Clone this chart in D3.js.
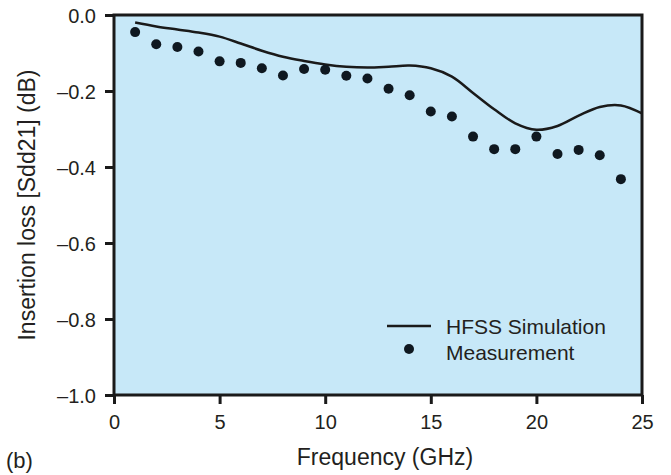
<!DOCTYPE html>
<html>
<head>
<meta charset="utf-8">
<script src="https://cdn.jsdelivr.net/npm/d3@7"></script>
<style>
  body { margin: 0; background: #fff; }
  svg text { font-family: "Liberation Sans", Arial, sans-serif; fill: #231f20; }
</style>
</head>
<body>
<div id="chart"></div>
<script>
// Simulation curve (HFSS).
const simFreq = [1, 2, 3, 4, 5, 6, 7, 8, 9, 10, 11, 12, 13, 14, 15, 16, 17, 18, 19, 20, 21, 22, 23, 24, 25];
const simLoss = [-0.020, -0.030, -0.038, -0.046, -0.057, -0.075, -0.094, -0.110, -0.121, -0.130,
  -0.136, -0.138, -0.136, -0.133, -0.140, -0.162, -0.205, -0.248, -0.285, -0.302,
  -0.292, -0.265, -0.242, -0.238, -0.259];

// Measurement points.
const measFreq = [1, 2, 3, 4, 5, 6, 7, 8, 9, 10, 11, 12, 13, 14, 15, 16, 17, 18, 19, 20, 21, 22, 23, 24];
const measLoss = [-0.045, -0.077, -0.084, -0.096, -0.122, -0.126, -0.140, -0.159, -0.142, -0.144,
  -0.160, -0.167, -0.194, -0.211, -0.254, -0.267, -0.320, -0.353, -0.353, -0.320,
  -0.366, -0.355, -0.369, -0.432];

const xTicks = [0, 5, 10, 15, 20, 25];
const yTicks = [0, -0.2, -0.4, -0.6, -0.8, -1.0];

const width = 671, height = 475;
const margin = { top: 15, right: 29, bottom: 80, left: 114 };
const ink = "#1a1a1a";

const svg = d3.select("#chart").append("svg")
  .attr("width", width)
  .attr("height", height);

// Scales.
const x = d3.scaleLinear().domain([0, 25]).range([margin.left, width - margin.right]);
const y = d3.scaleLinear().domain([-1, 0]).range([height - margin.bottom, margin.top]);

// Plot background.
svg.append("rect")
  .attr("x", x(0))
  .attr("y", y(0))
  .attr("width", x(25) - x(0))
  .attr("height", y(-1) - y(0))
  .attr("fill", "#c7e8f8")
  .attr("stroke", ink)
  .attr("stroke-width", 3);

const fmt = (d) => (d === 0 ? "0.0" : "\u2013" + Math.abs(d).toFixed(1));

// y-axis.
const yAxis = svg.append("g")
  .attr("transform", `translate(${x(0)},0)`)
  .call(d3.axisLeft(y).tickValues(yTicks).tickFormat(fmt).tickSize(9).tickPadding(9));
yAxis.select(".domain").remove();
yAxis.selectAll(".tick line").attr("stroke", ink).attr("stroke-width", 3);
yAxis.selectAll(".tick text").attr("font-size", 20).attr("dy", "0.36em");

// x-axis.
const xAxis = svg.append("g")
  .attr("transform", `translate(0,${y(-1)})`)
  .call(d3.axisBottom(x).tickValues(xTicks).tickFormat(d3.format("d")).tickSize(9).tickPadding(11));
xAxis.select(".domain").remove();
xAxis.selectAll(".tick line").attr("stroke", ink).attr("stroke-width", 3);
xAxis.selectAll(".tick text").attr("font-size", 20);

// Axis titles.
svg.append("text")
  .attr("x", 385)
  .attr("y", 465)
  .attr("text-anchor", "middle")
  .attr("font-size", 23)
  .text("Frequency (GHz)");

svg.append("text")
  .attr("transform", `translate(35,${(y(0) + y(-1)) / 2}) rotate(-90)`)
  .attr("text-anchor", "middle")
  .attr("font-size", 23)
  .text("Insertion loss [Sdd21] (dB)");

svg.append("text")
  .attr("x", 6)
  .attr("y", 468)
  .attr("font-size", 22)
  .text("(b)");

// Simulation line.
const simData = simFreq.map((f, i) => [f, simLoss[i]]);
svg.append("path")
  .datum(simData)
  .attr("fill", "none")
  .attr("stroke", ink)
  .attr("stroke-width", 2.5)
  .attr("d", d3.line().x((d) => x(d[0])).y((d) => y(d[1])).curve(d3.curveCatmullRom));

// Measurement dots.
const measData = measFreq.map((f, i) => [f, measLoss[i]]);
svg.selectAll("circle.meas")
  .data(measData)
  .join("circle")
  .attr("class", "meas")
  .attr("cx", (d) => x(d[0]))
  .attr("cy", (d) => y(d[1]))
  .attr("r", 5)
  .attr("fill", "#0f1820");

// Legend.
const legend = svg.append("g").attr("transform", "translate(387,326)");
legend.append("line")
  .attr("x1", 0).attr("x2", 44)
  .attr("y1", 0).attr("y2", 0)
  .attr("stroke", ink).attr("stroke-width", 2.5);
legend.append("text")
  .attr("x", 59).attr("y", 8)
  .attr("font-size", 21)
  .text("HFSS Simulation");
legend.append("circle")
  .attr("cx", 22).attr("cy", 23)
  .attr("r", 5)
  .attr("fill", "#0f1820");
legend.append("text")
  .attr("x", 59).attr("y", 34)
  .attr("font-size", 21)
  .text("Measurement");
</script>
</body>
</html>
